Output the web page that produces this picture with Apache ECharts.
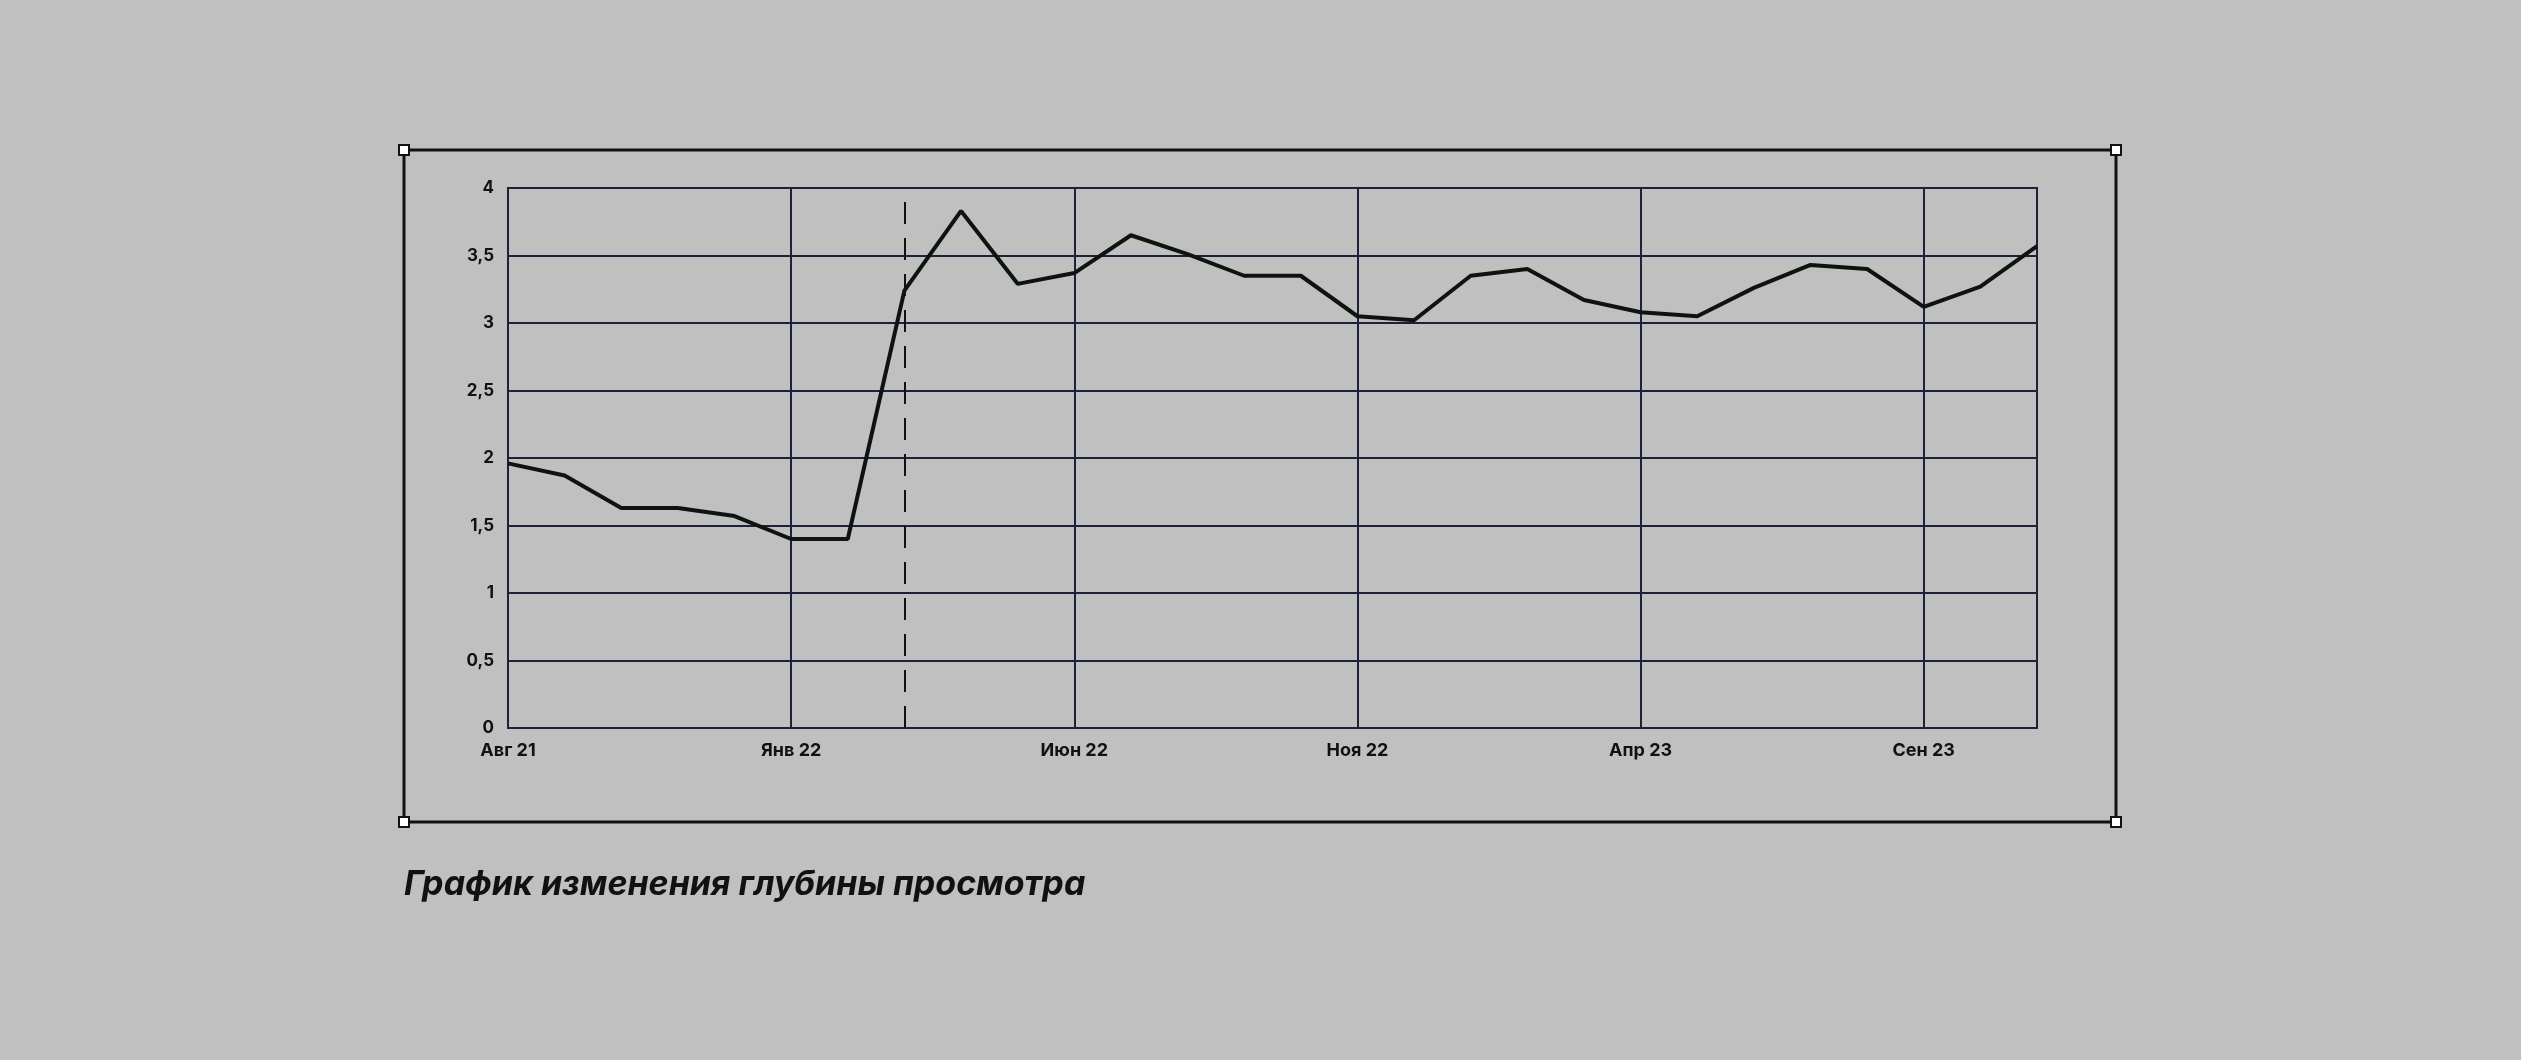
<!DOCTYPE html>
<html><head><meta charset="utf-8">
<script src="https://cdn.jsdelivr.net/npm/echarts@6/dist/echarts.min.js"></script>
<style>html,body{margin:0;padding:0;background:#c0c0c0;}#c{width:2521px;height:1060px;}</style>
</head><body><div id="c"></div>
<script>
const categories = ['Авг 21','Сен 21','Окт 21','Ноя 21','Дек 21','Янв 22','Фев 22','Мар 22','Апр 22','Май 22','Июн 22','Июл 22','Авг 22','Сен 22','Окт 22','Ноя 22','Дек 22','Янв 23','Фев 23','Мар 23','Апр 23','Май 23','Июн 23','Июл 23','Авг 23','Сен 23','Окт 23','Ноя 23'];
const values = [1.96,1.87,1.63,1.63,1.57,1.40,1.40,3.24,3.83,3.29,3.37,3.65,3.51,3.35,3.35,3.05,3.02,3.35,3.40,3.17,3.08,3.05,3.26,3.43,3.40,3.12,3.27,3.57];
const labeledIdx = [0,5,10,15,20,25];
const dashedIdx = 7;
const title = 'График изменения глубины просмотра';
const lineC = '#1c2038';
const chart = echarts.init(document.getElementById('c'));
const sq = (x,y)=>({type:'rect',shape:{x:x-5,y:y-5,width:10,height:10},style:{fill:'#fff',stroke:'#111',lineWidth:2},z:10});
chart.setOption({
  backgroundColor:'#c0c0c0',
  animation:false,
  grid:{left:508,right:2521-2037,top:188,bottom:1060-728,show:true,borderColor:lineC,borderWidth:2,backgroundColor:'transparent'},
  xAxis:{type:'category',data:categories,boundaryGap:false,
    axisLine:{show:true,lineStyle:{color:lineC,width:2}},axisTick:{show:false},
    axisLabel:{interval:(i)=>labeledIdx.includes(i),color:'#111',fontFamily:'Inter',fontWeight:'bold',fontSize:18,margin:14},
    splitLine:{show:true,interval:(i)=>labeledIdx.includes(i),lineStyle:{color:lineC,width:2}}},
  yAxis:{type:'value',min:0,max:4,interval:0.5,
    axisLine:{show:true,lineStyle:{color:lineC,width:2}},axisTick:{show:false},
    axisLabel:{formatter:v=>String(v).replace('.',','),color:'#111',fontFamily:'Inter',fontWeight:'bold',fontSize:17,margin:14},
    splitLine:{lineStyle:{color:lineC,width:2}}},
  series:[{type:'line',data:values,symbol:'none',lineStyle:{color:'#0d140f',width:4},
    markLine:{silent:true,symbol:'none',label:{show:false},lineStyle:{color:'#111',type:[22,14],width:2},data:[{xAxis:dashedIdx}]}}],
  graphic:[
    {type:'rect',shape:{x:404,y:150,width:1712,height:672},style:{fill:'none',stroke:'#111',lineWidth:3}},
    sq(404,150),sq(2116,150),sq(404,822),sq(2116,822),
    {type:'text',left:404,top:868,style:{text:title,fontFamily:'Inter',fontWeight:'bold',fontStyle:'italic',fontSize:34,fill:'#111'}}
  ]
});
</script></body></html>
